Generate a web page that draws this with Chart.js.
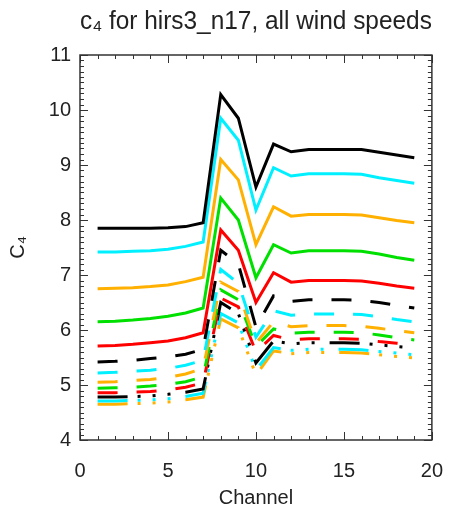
<!DOCTYPE html>
<html>
<head>
<meta charset="utf-8">
<script src="https://cdn.jsdelivr.net/npm/chart.js@4/dist/chart.umd.min.js"></script>
<style>
  body { margin: 0; background: #fff; }
  #wrap { width: 462px; height: 510px; }
</style>
</head>
<body>
<div id="wrap"><canvas id="c4chart" width="462" height="510"></canvas></div>
<script>
const channels = [1,2,3,4,5,6,7,8,9,10,11,12,13,14,15,16,17,18,19];

// solid lines
const solidBlack  = [7.85,7.85,7.85,7.85,7.86,7.88,7.95,10.28,9.85,8.60,9.38,9.24,9.28,9.28,9.28,9.28,9.23,9.18,9.13];
const solidCyan   = [7.42,7.42,7.43,7.44,7.47,7.52,7.60,9.85,9.45,8.18,8.95,8.80,8.84,8.84,8.84,8.83,8.77,8.72,8.67];
const solidOrange = [6.75,6.76,6.77,6.79,6.82,6.88,6.96,9.10,8.73,7.55,8.24,8.07,8.10,8.10,8.10,8.09,8.04,7.99,7.95];
const solidGreen  = [6.15,6.16,6.18,6.21,6.25,6.31,6.40,8.40,8.00,6.95,7.55,7.40,7.44,7.44,7.44,7.43,7.38,7.32,7.27];
const solidRed    = [5.71,5.72,5.74,5.77,5.80,5.86,5.95,7.82,7.45,6.50,7.04,6.87,6.90,6.90,6.90,6.89,6.85,6.80,6.76];

// dashed lines
const dashBlack  = [5.42,5.43,5.45,5.48,5.51,5.56,5.65,7.45,7.20,6.05,6.62,6.52,6.55,6.55,6.55,6.54,6.50,6.45,6.40];
const dashCyan   = [5.22,5.23,5.25,5.27,5.30,5.36,5.45,7.10,6.85,5.87,6.35,6.27,6.29,6.29,6.29,6.28,6.24,6.19,6.15];
const dashOrange = [5.05,5.06,5.08,5.10,5.14,5.20,5.30,6.87,6.70,5.76,6.15,6.06,6.08,6.08,6.08,6.07,6.03,5.99,5.95];
const dashGreen  = [4.94,4.95,4.96,4.98,5.01,5.06,5.15,6.73,6.55,5.70,6.02,5.94,5.96,5.96,5.96,5.95,5.91,5.86,5.82];
const dashRed    = [4.86,4.86,4.87,4.88,4.91,4.96,5.04,6.58,6.42,5.60,5.90,5.82,5.84,5.84,5.84,5.83,5.79,5.76,5.73];

// dash dot dot dot lines
const dotBlack  = [4.78,4.78,4.79,4.80,4.83,4.87,4.93,6.50,6.30,5.40,5.80,5.75,5.77,5.77,5.77,5.76,5.73,5.70,5.67];
const dotCyan   = [4.71,4.71,4.72,4.73,4.75,4.79,4.85,6.30,6.13,5.27,5.68,5.63,5.65,5.65,5.65,5.64,5.61,5.58,5.55];
const dotOrange = [4.65,4.65,4.66,4.67,4.69,4.73,4.78,6.20,6.04,5.18,5.62,5.57,5.59,5.59,5.59,5.58,5.55,5.52,5.49];

const xTicks = [0,5,10,15,20];
const yTicks = [4,5,6,7,8,9,10,11];

const BLACK = '#000000', CYAN = '#00f0ff', ORANGE = '#ffb000', GREEN = '#00e000', RED = '#ff0000';
const SOLID = [], DASH = [20,19], DASHDOT = [30,10,3,12,3,12,3,15];

function makeSet(values, color, dash){
    return {
        data: values.map(function(v, i){ return {x: channels[i], y: v}; }),
        borderColor: color,
        borderWidth: 3,
        borderDash: dash,
        pointRadius: 0,
        tension: 0,
        fill: false
    };
}

const datasets = [
    makeSet(solidBlack, BLACK, SOLID),
    makeSet(solidCyan, CYAN, SOLID),
    makeSet(solidOrange, ORANGE, SOLID),
    makeSet(solidGreen, GREEN, SOLID),
    makeSet(solidRed, RED, SOLID),
    makeSet(dashBlack, BLACK, DASH),
    makeSet(dashCyan, CYAN, DASH),
    makeSet(dashOrange, ORANGE, DASH),
    makeSet(dashGreen, GREEN, DASH),
    makeSet(dashRed, RED, DASH),
    makeSet(dotBlack, BLACK, DASHDOT),
    makeSet(dotCyan, CYAN, DASHDOT),
    makeSet(dotOrange, ORANGE, DASHDOT)
];

// box + inward ticks on all four sides, like the IDL plot
const frameTicks = {
    id: 'frameTicks',
    afterDraw: function(chart){
        const ctx = chart.ctx;
        const a = chart.chartArea;
        const xs = chart.scales.x, ys = chart.scales.y;
        ctx.save();
        ctx.strokeStyle = '#333';
        ctx.lineWidth = 1;
        ctx.beginPath();
        for (let v = xs.min; v <= xs.max + 1e-9; v += 1){
            const px = Math.round(xs.getPixelForValue(v)) + 0.5;
            const len = (v % 5 === 0) ? 8 : 4;
            ctx.moveTo(px, a.bottom); ctx.lineTo(px, a.bottom - len);
            ctx.moveTo(px, a.top); ctx.lineTo(px, a.top + len);
        }
        for (let k = 0; k <= (ys.max - ys.min) * 10; k++){
            const v = ys.min + k / 10;
            const py = Math.round(ys.getPixelForValue(v)) + 0.5;
            const len = (k % 10 === 0) ? 8 : 4;
            ctx.moveTo(a.left, py); ctx.lineTo(a.left + len, py);
            ctx.moveTo(a.right, py); ctx.lineTo(a.right - len, py);
        }
        ctx.stroke();
        ctx.lineWidth = 1.5;
        ctx.strokeRect(a.left, a.top, a.right - a.left, a.bottom - a.top);
        ctx.restore();
    }
};

const fontFamily = '"Liberation Sans", Arial, Helvetica, sans-serif';

new Chart(document.getElementById('c4chart'), {
    type: 'line',
    data: { datasets: datasets },
    options: {
        responsive: false,
        animation: false,
        layout: { padding: { left: 0, right: 20, top: 0, bottom: 0 } },
        plugins: {
            legend: { display: false },
            tooltip: { enabled: false },
            title: {
                display: true,
                fullSize: false,
                text: 'c\u2084 for hirs3_n17, all wind speeds',
                color: '#222',
                font: { family: fontFamily, size: 25, weight: 'normal' },
                padding: { top: 7, bottom: 18 }
            }
        },
        scales: {
            x: {
                type: 'linear',
                min: 0,
                max: 20,
                afterFit: function(s){ s.height = 70; },
                afterBuildTicks: function(s){ s.ticks = xTicks.map(function(v){ return {value: v}; }); },
                grid: { display: false, drawTicks: false },
                border: { display: false },
                ticks: { color: '#222', padding: 19, font: { family: fontFamily, size: 20 } },
                title: {
                    display: true,
                    text: 'Channel',
                    color: '#222',
                    font: { family: fontFamily, size: 20 },
                    padding: { top: 0, bottom: 0 }
                }
            },
            y: {
                type: 'linear',
                min: 4,
                max: 11,
                afterFit: function(s){ s.width = 80; },
                afterBuildTicks: function(s){ s.ticks = yTicks.map(function(v){ return {value: v}; }); },
                grid: { display: false, drawTicks: false },
                border: { display: false },
                ticks: { color: '#222', padding: 9, font: { family: fontFamily, size: 20 } },
                title: {
                    display: true,
                    text: 'C\u2084',
                    color: '#222',
                    font: { family: fontFamily, size: 20 },
                    padding: { top: 6, bottom: 0 }
                }
            }
        }
    },
    plugins: [frameTicks]
});
</script>
</body>
</html>
